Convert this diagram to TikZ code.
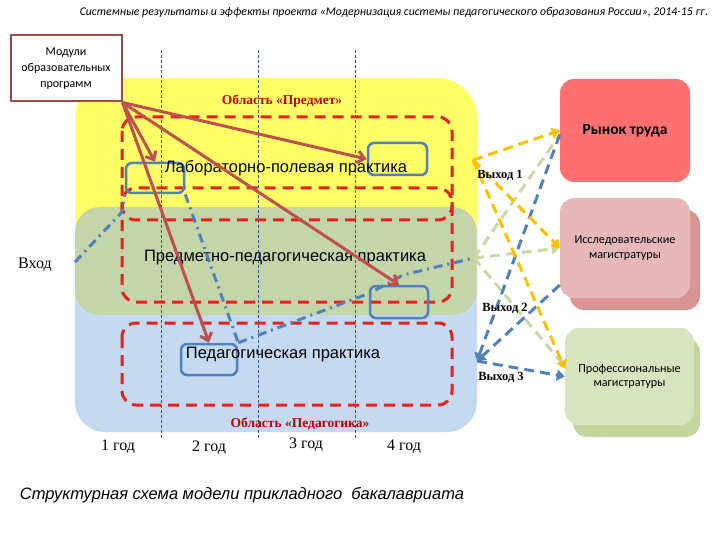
\documentclass[tikz,border=0pt]{standalone}
\usepackage{fontspec}
\setmainfont{Liberation Serif}
\setsansfont{Liberation Sans}
\newfontfamily\calfont{Carlito}
\usetikzlibrary{arrows.meta,calc}
\definecolor{yellowA}{HTML}{FFFF66}
\definecolor{greenA}{HTML}{C4D5AA}
\definecolor{blueA}{HTML}{C5D9F1}
\definecolor{redD}{HTML}{E8201E}
\definecolor{arrowred}{HTML}{C0504D}
\definecolor{steel}{HTML}{4F81BD}
\definecolor{orangeC}{HTML}{FFC000}
\definecolor{paleG}{HTML}{C9D8A8}
\definecolor{rynokC}{HTML}{FF7171}
\definecolor{isslF}{HTML}{E6B9B8}
\definecolor{isslB}{HTML}{D99594}
\definecolor{profF}{HTML}{D7E4BD}
\definecolor{profB}{HTML}{C3D69B}
\definecolor{modC}{HTML}{9B4A48}
\definecolor{titleR}{HTML}{C00000}
\definecolor{vlineC}{HTML}{2F5597}
\tikzset{
  vline/.style={vlineC, line width=0.6pt, dash pattern=on 3pt off 2pt},
  reddash/.style={redD, line width=3pt, dash pattern=on 11pt off 7pt, rounded corners=14pt},
  bbox/.style={draw=steel, line width=2.5pt, rounded corners=6pt, inner sep=0pt},
  praclab/.style={font=\sffamily\fontsize{16.5}{18}\selectfont},
  regtitle/.style={font=\bfseries\fontsize{13.5}{15}\selectfont, text=titleR},
  yearlab/.style={font=\fontsize{16}{18}\selectfont},
  exitlab/.style={font=\bfseries\fontsize{12.5}{14}\selectfont},
  rarrow/.style={arrowred, line width=3pt, -{Straight Barb[length=7pt,width=12pt]}},
  dashdot/.style={steel, line width=3pt, dash pattern=on 9pt off 5pt on 2pt off 5pt},
  orangeL/.style={orangeC, line width=3pt, dash pattern=on 10pt off 6pt},
  paleL/.style={paleG, line width=3pt, dash pattern=on 10pt off 6pt},
  blueL/.style={steel, line width=3pt, dash pattern=on 10pt off 6pt},
  headT/.style={-{Triangle[length=8pt,width=11pt]}},
  rbox/.style={rounded corners=14pt, inner sep=0pt, align=center},
}
\begin{document}
\begin{tikzpicture}[x=1pt,y=-1pt]
\useasboundingbox (0,0) rectangle (720,540);
% title
\node[font=\calfont\itshape\fontsize{11.8}{13}\selectfont] (title) at (394,12)
  {Системные результаты и эффекты проекта «Модернизация системы педагогического образования России», 2014-15 гг.};
% areas
\fill[yellowA, rounded corners=40pt] (75,78) rectangle (477,300);
\fill[blueA, rounded corners=30pt] (75,240) rectangle (477,432);
\fill[greenA, rounded corners=25pt] (75,207) rectangle (477,315);
% year lines
\draw[vline] (161,50) -- (161,438);
\draw[vline] (258,50) -- (258,438);
\draw[vline] (355,50) -- (355,438);
% red dashed frames
\draw[reddash] (122,117) rectangle (452,220);
\draw[reddash] (122,188) rectangle (452,302);
\draw[reddash] (122,323) rectangle (452,405);
% blue small boxes
\node[bbox, minimum width=58pt, minimum height=30pt] (b1) at (155,178) {};
\node[bbox, minimum width=59pt, minimum height=32pt] (b2) at (397.5,159) {};
\node[bbox, minimum width=58pt, minimum height=32pt] (b3) at (399,302) {};
\node[bbox, minimum width=56pt, minimum height=31pt] (b4) at (209,359.5) {};
% practice labels
\node[praclab] (lab) at (286,168) {Лабораторно-полевая практика};
\node[praclab] (pp) at (285,258) {Предметно-педагогическая практика};
\node[praclab] (ped) at (283,355) {Педагогическая практика};
% region titles
\node[regtitle] (rp) at (282,101) {Область «Предмет»};
\node[regtitle] (rpd) at (300,424) {Область «Педагогика»};
% input and years
\node[yearlab] (vhod) at (35,265) {Вход};
\node[yearlab] (y1) at (118,447) {1 год};
\node[yearlab] (y2) at (209,448) {2 год};
\node[yearlab] (y3) at (306,445) {3 год};
\node[yearlab] (y4) at (404,447) {4 год};
% module box
\node[draw=modC, line width=2pt, fill=white, minimum width=111pt, minimum height=66pt,
      align=center, inner sep=0pt, font=\calfont\fontsize{12}{16}\selectfont] (mod) at (66,68.5)
  {Модули\\образовательных\\программ};
% dash-dot path
\coordinate (in) at (75,262);
\coordinate (x1) at (473,160);
\coordinate (x2) at (474,258);
\coordinate (x3) at (477,361);
\draw[dashdot] (in) -- (122,212) -- (b1.south west);
\draw[dashdot] (b1.south east) -- (b4.north east);
\draw[dashdot] (b4.north east) -- (370,293) -- (403,275) -- (x2);
% red arrows
\draw[rarrow] (mod.south east) -- (b1.north);
\draw[rarrow] (mod.south east) -- (b2.west);
\draw[rarrow] (mod.south east) -- (b3.north);
\draw[rarrow] (mod.south east) -- (b4.north);
% right boxes
\node[rbox, fill=rynokC, minimum width=130pt, minimum height=103pt,
      font=\calfont\bfseries\fontsize{15.5}{17}\selectfont] (rynok) at (625,130.5) {Рынок труда};
\node[rbox, fill=isslB, minimum width=130pt, minimum height=100pt] (isslb) at (635,260) {};
\node[rbox, fill=isslF, minimum width=130pt, minimum height=100pt,
      font=\calfont\fontsize{12.2}{15}\selectfont] (issl) at (625,248) {Исследовательские\\магистратуры};
\node[rbox, fill=profB, minimum width=127pt, minimum height=99pt] (profb) at (636.5,387.5) {};
\node[rbox, fill=profF, minimum width=129pt, minimum height=97pt,
      font=\calfont\fontsize{12.2}{14.5}\selectfont] (prof) at (629.5,376.5) {Профессиональные\\магистратуры};
% exit connectors
\draw[paleL] (x2) -- ([yshift=-4pt]rynok.west);
\draw[paleL, headT] (x2) -- (issl.west);
\draw[paleL] (x2) -- ([yshift=10pt]prof.west);
\draw[blueL, headT] ([yshift=-4pt]rynok.west) -- (x3);
\draw[blueL, headT] ([yshift=-37pt]issl.west) -- (x3);
\draw[blueL, headT] (x3) -- (prof.west);
\draw[orangeL, headT] (x1) -- (rynok.west);
\draw[orangeL, headT] (x1) -- (issl.west);
\draw[orangeL, headT] (x1) -- ([yshift=8pt]prof.west);
% exit labels
\node[exitlab] (e1) at (500,175) {Выход 1};
\node[exitlab] (e2) at (505,308) {Выход 2};
\node[exitlab] (e3) at (501,377) {Выход 3};
% caption
\node[font=\sffamily\itshape\fontsize{16.5}{18}\selectfont] (cap) at (242,495)
  {Структурная схема модели прикладного\ \ бакалавриата};
\end{tikzpicture}
\end{document}
